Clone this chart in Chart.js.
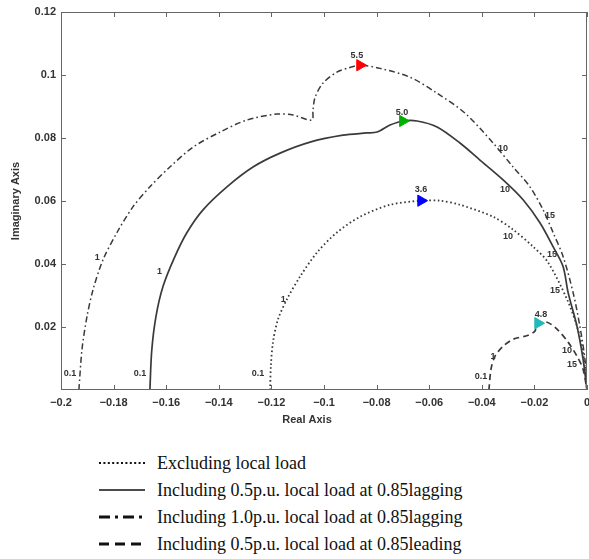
<!DOCTYPE html>
<html>
<head>
<meta charset="utf-8">
<style>
html,body{margin:0;padding:0;background:#fff;overflow:hidden;width:589px;height:559px;}
#c{position:absolute;left:0;top:0;}
.row{position:absolute;left:99px;height:20px;display:flex;align-items:center;
 font-family:"Liberation Serif","Times New Roman",serif;font-size:18px;color:#111;white-space:nowrap;}
.row svg{margin-right:12px;}
</style>
<script src="https://cdn.jsdelivr.net/npm/chart.js@4.4.0/dist/chart.umd.min.js"></script>
</head>
<body>
<canvas id="c" width="600" height="440"></canvas>
<div class="row" style="top:453px"><svg width="46" height="6"><line x1="0" y1="3" x2="46" y2="3" stroke="#111" stroke-width="2" stroke-dasharray="2,2.4"/></svg>Excluding local load</div>
<div class="row" style="top:480px"><svg width="46" height="6"><line x1="0" y1="3" x2="46" y2="3" stroke="#111" stroke-width="1.5"/></svg>Including 0.5p.u. local load at 0.85lagging</div>
<div class="row" style="top:507px"><svg width="46" height="6"><line x1="0" y1="3" x2="46" y2="3" stroke="#111" stroke-width="3" stroke-dasharray="11,5,3,5"/></svg>Including 1.0p.u. local load at 0.85lagging</div>
<div class="row" style="top:534px"><svg width="46" height="6"><line x1="0" y1="3" x2="46" y2="3" stroke="#111" stroke-width="3" stroke-dasharray="10,6"/></svg>Including 0.5p.u. local load at 0.85leading</div>
<script>
// ---- Data ----
const xTicks = [-0.2, -0.18, -0.16, -0.14, -0.12, -0.1, -0.08, -0.06, -0.04, -0.02, 0];
const yTicks = [0.02, 0.04, 0.06, 0.08, 0.1, 0.12];
const xTitle = 'Real Axis';
const yTitle = 'Imaginary Axis';

// Excluding local load (dotted)
const exclX = [-0.1205,-0.1202,-0.1194,-0.1175,-0.1141,-0.1091,-0.1027,-0.0951,-0.0863,-0.0749,-0.0631,-0.0559,-0.0483,-0.0357,-0.0281,-0.0205,-0.0148,-0.0076,-0.0038,-0.0015,0];
const exclY = [0,0.0076,0.0152,0.0224,0.0288,0.036,0.0436,0.05,0.055,0.0588,0.0601,0.0601,0.0588,0.055,0.0509,0.0455,0.0405,0.0288,0.0202,0.012,0];

// Including 0.5 p.u. local load at 0.85 lagging (solid)
const lag05X = [-0.1662,-0.1655,-0.1639,-0.1612,-0.157,-0.1521,-0.146,-0.1369,-0.127,-0.1167,-0.1053,-0.0928,-0.0837,-0.0798,-0.0749,-0.07,-0.0646,-0.057,-0.0483,-0.0407,-0.0319,-0.0243,-0.0179,-0.0129,-0.0091,-0.0072,-0.0038,-0.0015,0];
const lag05Y = [0,0.0125,0.0233,0.0329,0.0418,0.05,0.0572,0.0645,0.0708,0.0752,0.0787,0.0809,0.0816,0.0819,0.0841,0.0854,0.0854,0.0835,0.0784,0.073,0.0667,0.0604,0.0531,0.0455,0.0392,0.031,0.0202,0.0098,0];

// Including 1.0 p.u. local load at 0.85 lagging (dash-dot)
const lag10X = [-0.1932,-0.192,-0.1901,-0.1878,-0.184,-0.1787,-0.1726,-0.1662,-0.1586,-0.1498,-0.1395,-0.1293,-0.1179,-0.1118,-0.1046,-0.1042,-0.1034,-0.1004,-0.0951,-0.0901,-0.0863,-0.0787,-0.0673,-0.057,-0.0464,-0.0357,-0.0281,-0.0217,-0.0167,-0.0129,-0.0091,-0.0053,-0.0027,-0.0008,0];
const lag10Y = [0,0.013,0.0234,0.0319,0.0414,0.05,0.0582,0.0645,0.0708,0.0771,0.0819,0.0857,0.0876,0.0873,0.0857,0.0888,0.0929,0.0974,0.1009,0.1024,0.1031,0.1021,0.0993,0.0942,0.0879,0.0784,0.0708,0.0645,0.0572,0.05,0.0424,0.031,0.0202,0.0098,0];

// Including 0.5 p.u. local load at 0.85 leading (dashed)
const lead05X = [-0.0373,-0.0365,-0.035,-0.0319,-0.0281,-0.0224,-0.0198,-0.019,-0.0152,-0.0114,-0.0072,-0.0038,-0.0015,0];
const lead05Y = [0,0.0066,0.0107,0.0139,0.0161,0.0174,0.0187,0.0209,0.0215,0.0193,0.0152,0.0107,0.0066,0];

// Frequency labels along each curve (rad/s)
const exclLabelText = ['0.1','1','3.6','10','15'];
const exclLabelX = [-0.1251,-0.1155,-0.0631,-0.030,-0.0122];
const exclLabelY = [0.0051,0.0288,0.0635,0.0487,0.0316];
const lag05LabelText = ['0.1','1','5.0','10','15'];
const lag05LabelX = [-0.170,-0.1625,-0.0703,-0.0312,-0.0133];
const lag05LabelY = [0.0051,0.0376,0.0882,0.0635,0.043];
const lag10LabelText = ['0.1','1','5.5','10','15'];
const lag10LabelX = [-0.1966,-0.1862,-0.0875,-0.0319,-0.0141];
const lag10LabelY = [0.0051,0.042,0.1062,0.0768,0.0553];
const lead05LabelText = ['0.1','1','4.8','10','15'];
const lead05LabelX = [-0.0403,-0.0357,-0.0175,-0.0076,-0.0057];
const lead05LabelY = [0.0044,0.0107,0.024,0.0126,0.0082];

// Peak markers
const markerX = [-0.0631,-0.070,-0.0863,-0.0186];
const markerY = [0.0601,0.0854,0.1031,0.0212];
const markerColor = ['#0000ff','#00b000','#ff0000','#20b8b8'];

// ---- Build chart ----
const pts = (xs, ys) => xs.map((v, i) => ({x: v, y: ys[i]}));
const fmt = v => {
  const r = Math.round(v * 100) / 100;
  if (r === 0) return '0';
  return String(r).replace('-', '\u2212');
};

const lineDS = (label, xs, ys, dash, w) => ({
  type: 'scatter', label, data: pts(xs, ys), showLine: true, pointRadius: 0,
  borderColor: '#3a3a3a', borderWidth: w, borderDash: dash, tension: 0.3, fill: false, order: 2
});

const datasets = [
  lineDS('Excluding local load', exclX, exclY, [1.6, 2.6], 1.8),
  lineDS('Including 0.5p.u. local load at 0.85lagging', lag05X, lag05Y, [], 1.7),
  lineDS('Including 1.0p.u. local load at 0.85lagging', lag10X, lag10Y, [6, 3, 1.6, 3], 1.5),
  lineDS('Including 0.5p.u. local load at 0.85leading', lead05X, lead05Y, [6, 4], 1.7)
];
markerX.forEach((mx, i) => datasets.push({
  type: 'scatter', label: 'peak' + i, data: [{x: mx, y: markerY[i]}],
  pointStyle: 'triangle', rotation: 90, pointRadius: 6.5,
  backgroundColor: markerColor[i], borderColor: markerColor[i], borderWidth: 1, order: 1
}));

const labelSets = [
  [exclLabelText, exclLabelX, exclLabelY],
  [lag05LabelText, lag05LabelX, lag05LabelY],
  [lag10LabelText, lag10LabelX, lag10LabelY],
  [lead05LabelText, lead05LabelX, lead05LabelY]
];

const decor = {
  id: 'decor',
  afterDatasetsDraw(chart) {
    const {ctx, chartArea: a, scales: {x, y}} = chart;
    ctx.save();
    ctx.strokeStyle = '#666';
    ctx.lineWidth = 1;
    ctx.strokeRect(a.left + 0.5, a.top + 0.5, a.right - a.left - 1, a.bottom - a.top - 1);
    ctx.beginPath();
    xTicks.forEach(v => {
      const px = Math.round(x.getPixelForValue(v)) + 0.5;
      ctx.moveTo(px, a.bottom); ctx.lineTo(px, a.bottom - 5);
      ctx.moveTo(px, a.top); ctx.lineTo(px, a.top + 5);
    });
    yTicks.forEach(v => {
      const py = Math.round(y.getPixelForValue(v)) + 0.5;
      ctx.moveTo(a.left, py); ctx.lineTo(a.left + 5, py);
      ctx.moveTo(a.right, py); ctx.lineTo(a.right - 5, py);
    });
    ctx.stroke();
    ctx.font = 'bold 9px "Liberation Sans", Arial, sans-serif';
    ctx.fillStyle = '#333';
    ctx.textAlign = 'center';
    ctx.textBaseline = 'middle';
    labelSets.forEach(([t, xs, ys]) => t.forEach((s, i) =>
      ctx.fillText(s, x.getPixelForValue(xs[i]), y.getPixelForValue(ys[i]))));
    // x-axis title (slightly left of centre, as in the reference)
    ctx.font = 'bold 11px "Liberation Sans", Arial, sans-serif';
    ctx.fillText(xTitle, (a.left + a.right) / 2 - 17, a.bottom + 30);
    ctx.restore();
  }
};

Chart.defaults.font.family = '"Liberation Sans", Arial, sans-serif';
new Chart(document.getElementById('c'), {
  type: 'scatter',
  data: {datasets},
  plugins: [decor],
  options: {
    responsive: false, animation: false, devicePixelRatio: 1,
    layout: {padding: {top: 12, right: 13, left: 0, bottom: 0}},
    plugins: {legend: {display: false}, tooltip: {enabled: false}},
    scales: {
      x: {
        type: 'linear', min: -0.2, max: 0,
        grid: {display: false, drawTicks: false}, border: {display: false},
        afterBuildTicks: s => { s.ticks = xTicks.map(v => ({value: v})); },
        ticks: {padding: 6, color: '#333', font: {size: 11, weight: 'bold'}, maxRotation: 0, autoSkip: false, callback: v => fmt(v)},
        title: {display: false},
        afterFit: s => { s.height = 50; }
      },
      y: {
        type: 'linear', min: 0, max: 0.12,
        grid: {display: false, drawTicks: false}, border: {display: false},
        afterBuildTicks: s => { s.ticks = yTicks.map(v => ({value: v})); },
        ticks: {padding: 5, color: '#333', font: {size: 11, weight: 'bold'}, autoSkip: false, callback: v => fmt(v)},
        title: {display: true, text: yTitle, color: '#333', font: {size: 11, weight: 'bold'}, padding: {top: 9, bottom: 0}},
        afterFit: s => { s.width = 61; }
      }
    }
  }
});
</script>
</body>
</html>
